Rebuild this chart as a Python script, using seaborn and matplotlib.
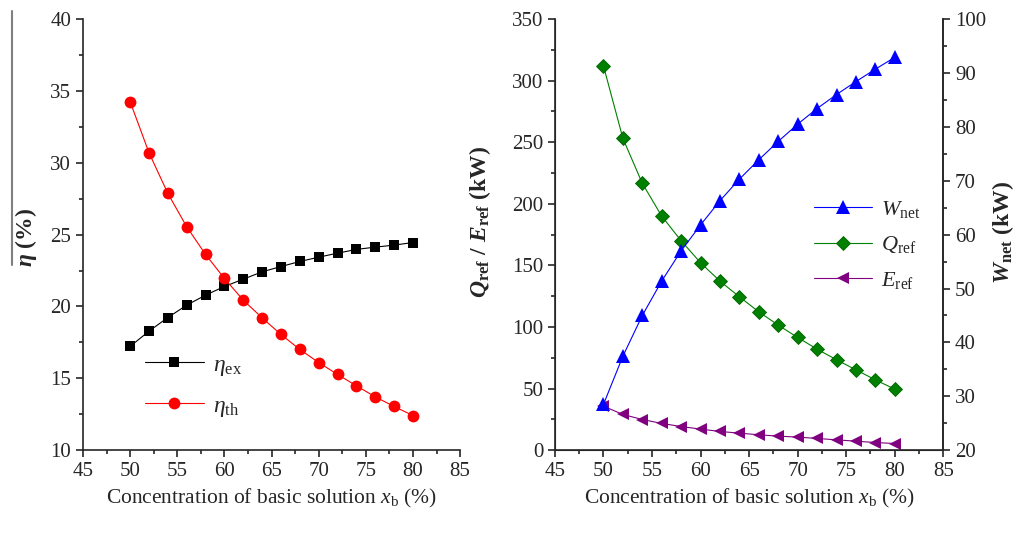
import numpy as np
import pandas as pd
import seaborn as sns
import matplotlib
matplotlib.use("Agg")
import matplotlib.pyplot as plt
from matplotlib.lines import Line2D
from matplotlib.ticker import MultipleLocator

x_b = [50, 52, 54, 56, 58, 60, 62, 64, 66, 68, 70, 72, 74, 76, 78, 80]
eta_ex = [17.22, 18.28, 19.23, 20.09, 20.79, 21.39, 21.90, 22.41, 22.78, 23.13,
          23.43, 23.71, 23.97, 24.13, 24.27, 24.45]
eta_th = [34.25, 30.70, 27.87, 25.55, 23.62, 21.95, 20.44, 19.21, 18.05, 17.01,
          16.10, 15.27, 14.48, 13.71, 13.04, 12.41]
q_ref = [311.9, 253.1, 216.6, 190.0, 170.0, 152.1, 137.2, 124.5, 112.3, 101.5,
         91.5, 82.0, 73.4, 65.2, 57.1, 49.5]
e_ref = [35.7, 29.0, 24.9, 21.7, 19.2, 17.1, 15.2, 13.8, 12.5, 11.4,
         10.6, 9.5, 8.4, 7.3, 6.2, 5.4]
w_net = [28.5, 37.45, 45.0, 51.4, 57.0, 61.8, 66.3, 70.3, 73.9, 77.3,
         80.5, 83.4, 86.0, 88.4, 90.7, 92.9]

sns.set_style("ticks")
plt.rcParams["font.family"] = ["Liberation Serif", "DejaVu Serif"]
plt.rcParams["mathtext.fontset"] = "custom"
plt.rcParams["mathtext.rm"] = "Liberation Serif"
plt.rcParams["mathtext.it"] = "Liberation Serif:italic"
plt.rcParams["mathtext.bf"] = "Liberation Serif:bold"
plt.rcParams["mathtext.sf"] = "Liberation Serif:bold:italic"
plt.rcParams["xtick.direction"] = "out"
plt.rcParams["ytick.direction"] = "out"

df = pd.DataFrame({"x": x_b, "ex": eta_ex, "th": eta_th,
                   "q": q_ref, "e": e_ref, "w": w_net})

fig = plt.figure(figsize=(10.22, 5.45), dpi=100)
ax1 = fig.add_axes([0.0812, 0.174, 0.369, 0.791])
ax2 = fig.add_axes([0.543, 0.174, 0.380, 0.791])
ax3 = ax2.twinx()

lw = 0.8
sns.lineplot(data=df, x="x", y="ex", ax=ax1, color="black", marker="s",
             markersize=7.5, markeredgewidth=0, lw=lw)
sns.lineplot(data=df, x="x", y="th", ax=ax1, color="red", marker="o",
             markersize=8.5, markeredgewidth=0, lw=lw)

sns.lineplot(data=df, x="x", y="q", ax=ax2, color="green", marker="D",
             markersize=7.5, markeredgewidth=0.6, markeredgecolor="#006400",
             lw=lw)
sns.lineplot(data=df, x="x", y="e", ax=ax2, color="purple", marker="<",
             markersize=8.5, markeredgewidth=0, lw=lw)
sns.lineplot(data=df, x="x", y="w", ax=ax3, color="blue", marker="^",
             markersize=9.5, markeredgewidth=0, lw=lw)

tick_fs = 15
for ax in (ax1, ax2):
    ax.set_xlim(45, 85)
    ax.xaxis.set_major_locator(MultipleLocator(5))
    ax.xaxis.set_minor_locator(MultipleLocator(2.5))
    ax.set_xlabel(r"Concentration of basic solution $x_{\rm b}$ (%)",
                  fontsize=15.5, labelpad=4)
    ax.spines["top"].set_visible(False)
    ax.tick_params(which="major", length=5, width=1.2, labelsize=tick_fs)
    ax.tick_params(which="minor", length=3, width=1.2)
    for s in ax.spines.values():
        s.set_linewidth(1.2)

ax1.spines["right"].set_visible(False)
ax1.set_ylim(10, 40)
ax1.yaxis.set_major_locator(MultipleLocator(5))
ax1.yaxis.set_minor_locator(MultipleLocator(2.5))
ax1.set_ylabel("")
fig.text(0.025, 0.565, r"$\mathsf{\eta}$ (%)", rotation=90, fontsize=17,
         fontweight="bold", ha="center", va="center")

ax2.set_ylim(0, 350)
ax2.yaxis.set_major_locator(MultipleLocator(50))
ax2.yaxis.set_minor_locator(MultipleLocator(25))
ax2.set_ylabel("")
fig.text(0.470, 0.593, r"$\mathsf{Q}_{\mathbf{ref}}$ / $\mathsf{E}_{\mathbf{ref}}$ (kW)",
         rotation=90, fontsize=17, fontweight="bold", ha="center", va="center")

ax3.set_ylim(20, 100)
ax3.yaxis.set_major_locator(MultipleLocator(10))
ax3.yaxis.set_minor_locator(MultipleLocator(5))
ax3.spines["top"].set_visible(False)
ax3.spines["right"].set_linewidth(1.2)
ax3.tick_params(which="major", length=5, width=1.2, labelsize=tick_fs)
ax3.tick_params(which="minor", length=3, width=1.2)
ax3.set_ylabel("")
fig.text(0.981, 0.574, r"$\mathsf{W}_{\mathbf{net}}$ (kW)", rotation=90,
         fontsize=17, fontweight="bold", ha="center", va="center")

h1 = [Line2D([], [], color="black", marker="s", markersize=7.5, lw=lw,
             markeredgewidth=0),
      Line2D([], [], color="red", marker="o", markersize=8.5, lw=lw,
             markeredgewidth=0)]
ax1.legend(h1, [r"$\mathit{\eta}_{\rm ex}$", r"$\mathit{\eta}_{\rm th}$"],
           loc="center left", bbox_to_anchor=(0.108, 0.148), frameon=False,
           fontsize=17, handlelength=2.5, labelspacing=0.75, handletextpad=0.4)

h2 = [Line2D([], [], color="blue", marker="^", markersize=9.5, lw=lw,
             markeredgewidth=0),
      Line2D([], [], color="green", marker="D", markersize=7.5, lw=lw,
             markeredgewidth=0.6, markeredgecolor="#006400"),
      Line2D([], [], color="purple", marker="<", markersize=8.5, lw=lw,
             markeredgewidth=0)]
ax2.legend(h2, [r"$W_{\rm net}$", r"$Q_{\rm ref}$", r"$E_{\rm ref}$"],
           loc="center left", bbox_to_anchor=(0.616, 0.476), frameon=False,
           fontsize=16, handlelength=2.6, labelspacing=0.65, handletextpad=0.4)

fig.add_artist(Line2D([0.012, 0.012], [1 - 11 / 545, 1 - 265 / 545],
                      color="#808080", lw=1.5, transform=fig.transFigure))

fig.savefig("out.png", dpi=100)
